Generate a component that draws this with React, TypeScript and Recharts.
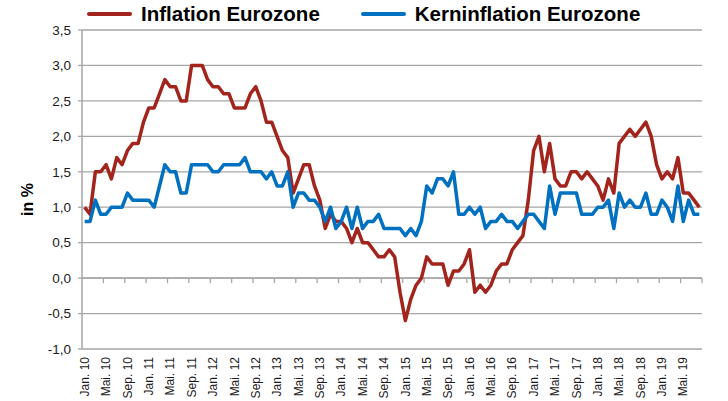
import React from 'react';
import {
  LineChart,
  Line,
  XAxis,
  YAxis,
  CartesianGrid,
  ReferenceLine,
  Legend,
} from 'recharts';

// Monatswerte Jan. 10 bis Aug. 19, Veränderung ggü. Vorjahr in %
const MONTHS = ['Jan.', 'Feb.', 'Mrz.', 'Apr.', 'Mai.', 'Jun.', 'Jul.', 'Aug.', 'Sep.', 'Okt.', 'Nov.', 'Dez.'];
const YEARS = ['10', '11', '12', '13', '14', '15', '16', '17', '18', '19'];
const LABELED_MONTHS = ['Jan.', 'Mai.', 'Sep.'];

const INFLATION = [
  1.0, 0.9, 1.5, 1.5, 1.6, 1.4, 1.7, 1.6, 1.8, 1.9, 1.9, 2.2,
  2.4, 2.4, 2.6, 2.8, 2.7, 2.7, 2.5, 2.5, 3.0, 3.0, 3.0, 2.8,
  2.7, 2.7, 2.6, 2.6, 2.4, 2.4, 2.4, 2.6, 2.7, 2.5, 2.2, 2.2,
  2.0, 1.8, 1.7, 1.2, 1.4, 1.6, 1.6, 1.3, 1.1, 0.7, 0.9, 0.8,
  0.8, 0.7, 0.5, 0.7, 0.5, 0.5, 0.4, 0.3, 0.3, 0.4, 0.3, -0.2,
  -0.6, -0.3, -0.1, 0.0, 0.3, 0.2, 0.2, 0.2, -0.1, 0.1, 0.1, 0.2,
  0.4, -0.2, -0.1, -0.2, -0.1, 0.1, 0.2, 0.2, 0.4, 0.5, 0.6, 1.1,
  1.8, 2.0, 1.5, 1.9, 1.4, 1.3, 1.3, 1.5, 1.5, 1.4, 1.5, 1.4,
  1.3, 1.1, 1.4, 1.2, 1.9, 2.0, 2.1, 2.0, 2.1, 2.2, 2.0, 1.6,
  1.4, 1.5, 1.4, 1.7, 1.2, 1.2, 1.1, 1.0,
];

const KERNINFLATION = [
  0.8, 0.8, 1.1, 0.9, 0.9, 1.0, 1.0, 1.0, 1.2, 1.1, 1.1, 1.1,
  1.1, 1.0, 1.3, 1.6, 1.5, 1.5, 1.2, 1.2, 1.6, 1.6, 1.6, 1.6,
  1.5, 1.5, 1.6, 1.6, 1.6, 1.6, 1.7, 1.5, 1.5, 1.5, 1.4, 1.5,
  1.3, 1.3, 1.5, 1.0, 1.2, 1.2, 1.1, 1.1, 1.0, 0.8, 1.0, 0.7,
  0.8, 1.0, 0.7, 1.0, 0.7, 0.8, 0.8, 0.9, 0.7, 0.7, 0.7, 0.7,
  0.6, 0.7, 0.6, 0.8, 1.3, 1.2, 1.4, 1.4, 1.3, 1.5, 0.9, 0.9,
  1.0, 0.9, 1.0, 0.7, 0.8, 0.8, 0.9, 0.8, 0.8, 0.7, 0.8, 0.9,
  0.9, 0.8, 0.7, 1.3, 0.9, 1.2, 1.2, 1.2, 1.2, 0.9, 0.9, 0.9,
  1.0, 1.0, 1.1, 0.7, 1.2, 1.0, 1.1, 1.0, 1.0, 1.2, 0.9, 0.9,
  1.1, 1.0, 0.8, 1.3, 0.8, 1.1, 0.9, 0.9,
];

const Y_TICKS = [-1, -0.5, 0, 0.5, 1, 1.5, 2, 2.5, 3, 3.5];

const SERIES = [
  { key: 'inflation', name: 'Inflation Eurozone', color: '#A3241C' },
  { key: 'kern', name: 'Kerninflation Eurozone', color: '#0070C0' },
];

const CATEGORIES = YEARS.flatMap((y) => MONTHS.map((m) => `${m} ${y}`)).slice(0, INFLATION.length);

const data = CATEGORIES.map((month, i) => ({
  month,
  inflation: INFLATION[i],
  kern: KERNINFLATION[i],
}));

const FONT = '"Liberation Sans", Arial, sans-serif';
const GRID = '#A6A6A6';

function MonthTick(props: any) {
  const { x, y, payload } = props;
  const label: string = payload.value;
  if (!LABELED_MONTHS.some((m) => label.startsWith(m))) return null;
  const ty = y + 8;
  return (
    <text
      x={x}
      y={ty}
      dy="0.35em"
      textAnchor="end"
      transform={`rotate(-90 ${x} ${ty})`}
      fontSize={12}
      fontFamily={FONT}
      fill="#1a1a1a"
    >
      {label}
    </text>
  );
}

// Nulllinie mit Teilstrichen alle 4 Monate (wie in Excel zwischen den Kategorien)
function ZeroAxis(props: any) {
  const { x1, x2, y1 } = props;
  const step = ((x2 - x1) / CATEGORIES.length) * 4;
  const marks = [];
  for (let i = 1; i * 4 <= CATEGORIES.length; i++) {
    const x = x1 + step * i;
    marks.push(<line key={i} x1={x} x2={x} y1={y1} y2={y1 + 5} stroke={GRID} strokeWidth={1.3} />);
  }
  return (
    <g>
      <line x1={x1} x2={x2} y1={y1} y2={y1} stroke={GRID} strokeWidth={1.5} />
      {marks}
    </g>
  );
}

function YTitle(props: any) {
  const { viewBox } = props;
  const x = viewBox.x + 27;
  const y = viewBox.y + viewBox.height / 2 + 10;
  return (
    <text
      x={x}
      y={y}
      dy="0.35em"
      textAnchor="middle"
      transform={`rotate(-90 ${x} ${y})`}
      fontSize={16}
      fontWeight="bold"
      fontFamily={FONT}
      fill="#000"
    >
      in %
    </text>
  );
}

function TopLegend() {
  return (
    <div
      style={{
        height: 30,
        display: 'flex',
        alignItems: 'center',
        paddingLeft: 87,
        paddingBottom: 2,
        boxSizing: 'border-box',
        fontFamily: FONT,
        fontWeight: 'bold',
        fontSize: 20.5,
        color: '#000',
      }}
    >
      {SERIES.map((s, i) => (
        <div key={s.key} style={{ display: 'flex', alignItems: 'center', marginRight: i === 0 ? 41 : 0 }}>
          <span style={{ width: 45, height: 4, background: s.color, borderRadius: 2, marginRight: 9 }} />
          <span style={{ whiteSpace: 'nowrap' }}>{s.name}</span>
        </div>
      ))}
    </div>
  );
}

export default function App() {
  return (
    <div style={{ width: 728, height: 401, background: '#fff' }}>
      <style>{'body{margin:0}'}</style>
      <LineChart width={728} height={401} data={data} margin={{ top: 0, right: 26, bottom: 0, left: 0 }}>
        <Legend
          verticalAlign="top"
          content={<TopLegend />}
          wrapperStyle={{ left: 0, top: 0, width: 728, height: 30 }}
        />
        <CartesianGrid vertical={false} stroke={GRID} strokeWidth={1.3} />
        <XAxis
          dataKey="month"
          scale="band"
          interval={0}
          height={52}
          tickLine={false}
          axisLine={false}
          tickSize={0}
          tickMargin={0}
          tick={<MonthTick />}
        />
        <YAxis
          width={82}
          domain={[-1, 3.5]}
          ticks={Y_TICKS}
          interval={0}
          tickSize={4}
          tickMargin={7}
          tickLine={{ stroke: GRID, strokeWidth: 1.3 }}
          axisLine={{ stroke: GRID, strokeWidth: 1.5 }}
          tick={{ fontSize: 13.5, fontFamily: FONT, fill: '#1a1a1a' }}
          tickFormatter={(v: number) => v.toFixed(1).replace('.', ',')}
          label={{ content: <YTitle /> }}
        />
        <ReferenceLine y={0} shape={<ZeroAxis />} />
        {SERIES.map((s) => (
          <Line
            key={s.key}
            dataKey={s.key}
            name={s.name}
            type="linear"
            stroke={s.color}
            strokeWidth={3.5}
            strokeLinejoin="round"
            dot={false}
            activeDot={false}
            isAnimationActive={false}
          />
        ))}
      </LineChart>
    </div>
  );
}
